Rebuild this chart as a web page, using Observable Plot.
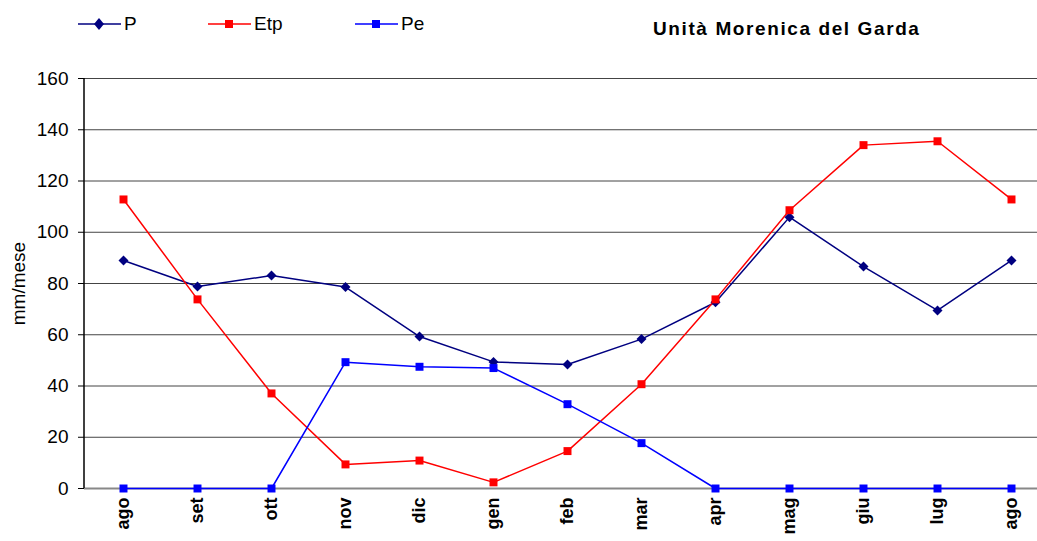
<!DOCTYPE html>
<html>
<head>
<meta charset="utf-8">
<script src="https://cdn.jsdelivr.net/npm/d3@7"></script>
<script src="https://cdn.jsdelivr.net/npm/@observablehq/plot@0.6"></script>
<style>
  html, body { margin: 0; padding: 0; background: #fff; overflow: hidden; }
  body { width: 1037px; height: 541px; font-family: "Liberation Sans", Arial, sans-serif; }
  #header { position: relative; height: 50px; }
  .leg { position: absolute; top: 13px; display: flex; align-items: center; font-size: 19px; color: #000; line-height: 22px; }
  .leg svg { margin-right: 3px; }
  #title { position: absolute; left: 653px; top: 18px; font-size: 19px; font-weight: bold; letter-spacing: 1.6px; line-height: 22px; }
</style>
</head>
<body>
<div id="header"></div>
<div id="chart"></div>
<script>
const months = ["ago","set","ott","nov","dic","gen","feb","mar","apr","mag","giu","lug","ago"];
const P   = [89, 78.8, 83.1, 78.6, 59.3, 49.4, 48.4, 58.3, 72.7, 105.9, 86.6, 69.5, 89];
const Etp = [112.8, 73.8, 37.1, 9.4, 10.9, 2.4, 14.6, 40.7, 73.8, 108.6, 134, 135.5, 112.8];
const Pe  = [0, 0, 0, 49.3, 47.5, 47, 32.9, 17.7, 0, 0, 0, 0, 0];
const yTicks = [0, 20, 40, 60, 80, 100, 120, 140, 160];
const seriesNames = ["P", "Etp", "Pe"];
const seriesColors = ["#000080", "#FF0000", "#0000FF"];
const seriesSymbols = ["diamond2", "square", "square"];
const titleText = "Unità Morenica del Garda";
const yLabel = "mm/mese";

const seriesValues = [P, Etp, Pe];
const data = [];
seriesNames.forEach((s, k) => seriesValues[k].forEach((v, i) => data.push({i, v, s})));

// header: legend + title
const header = document.getElementById("header");
const legX = [78, 208, 355];
seriesNames.forEach((s, k) => {
  const d = document.createElement("div");
  d.className = "leg";
  d.style.left = legX[k] + "px";
  const c = seriesColors[k];
  const marker = seriesSymbols[k] === "square"
    ? `<rect x="17" y="7" width="8" height="8" fill="${c}"/>`
    : `<path d="M21 5 L26 11 L21 17 L16 11 Z" fill="${c}"/>`;
  d.innerHTML = `<svg width="43" height="22"><line x1="0" y1="11" x2="43" y2="11" stroke="${c}" stroke-width="1.5"/>${marker}</svg><span>${s}</span>`;
  header.appendChild(d);
});
const t = document.createElement("div");
t.id = "title";
t.textContent = titleText;
header.appendChild(t);

const chart = Plot.plot({
  width: 1037,
  height: 491,
  marginLeft: 84,
  marginRight: 0,
  marginTop: 28,
  marginBottom: 53,
  style: {fontFamily: "Liberation Sans, Arial, sans-serif", background: "#fff", overflow: "visible"},
  x: {type: "point", domain: d3.range(months.length), range: [122, 1012], padding: 0},
  y: {domain: [0, 160]},
  color: {domain: seriesNames, range: seriesColors},
  symbol: {domain: seriesNames, range: seriesSymbols},
  marks: [
    Plot.ruleY(yTicks.filter(d => d > 0), {stroke: "#444", strokeWidth: 1}),
    Plot.ruleY([0], {stroke: "#888", strokeWidth: 2}),
    Plot.axisY({ticks: yTicks, tickSize: 6, tickPadding: 10, fontSize: 19, label: null, stroke: "#000"}),
    Plot.axisX({ticks: d3.range(months.length), tickFormat: i => months[i], tickRotate: -90, tickSize: 0, tickPadding: 9, fontSize: 18, fontWeight: "bold", label: null}),
    Plot.text([yLabel], {frameAnchor: "left", textAnchor: "middle", dx: -66, rotate: -90, fontSize: 19, text: d => d}),
    Plot.line(data, {x: "i", y: "v", z: "s", stroke: "s", strokeWidth: 1.5}),
    Plot.dot(data, {x: "i", y: "v", fill: "s", symbol: "s", r: 4.5, stroke: "none"})
  ]
});
// draw vertical y-axis line
const svg = d3.select(chart);
svg.append("line").attr("x1", 84).attr("x2", 84).attr("y1", 28).attr("y2", 438).attr("stroke", "#000").attr("stroke-width", 1.5);
document.getElementById("chart").appendChild(chart);
</script>
</body>
</html>
